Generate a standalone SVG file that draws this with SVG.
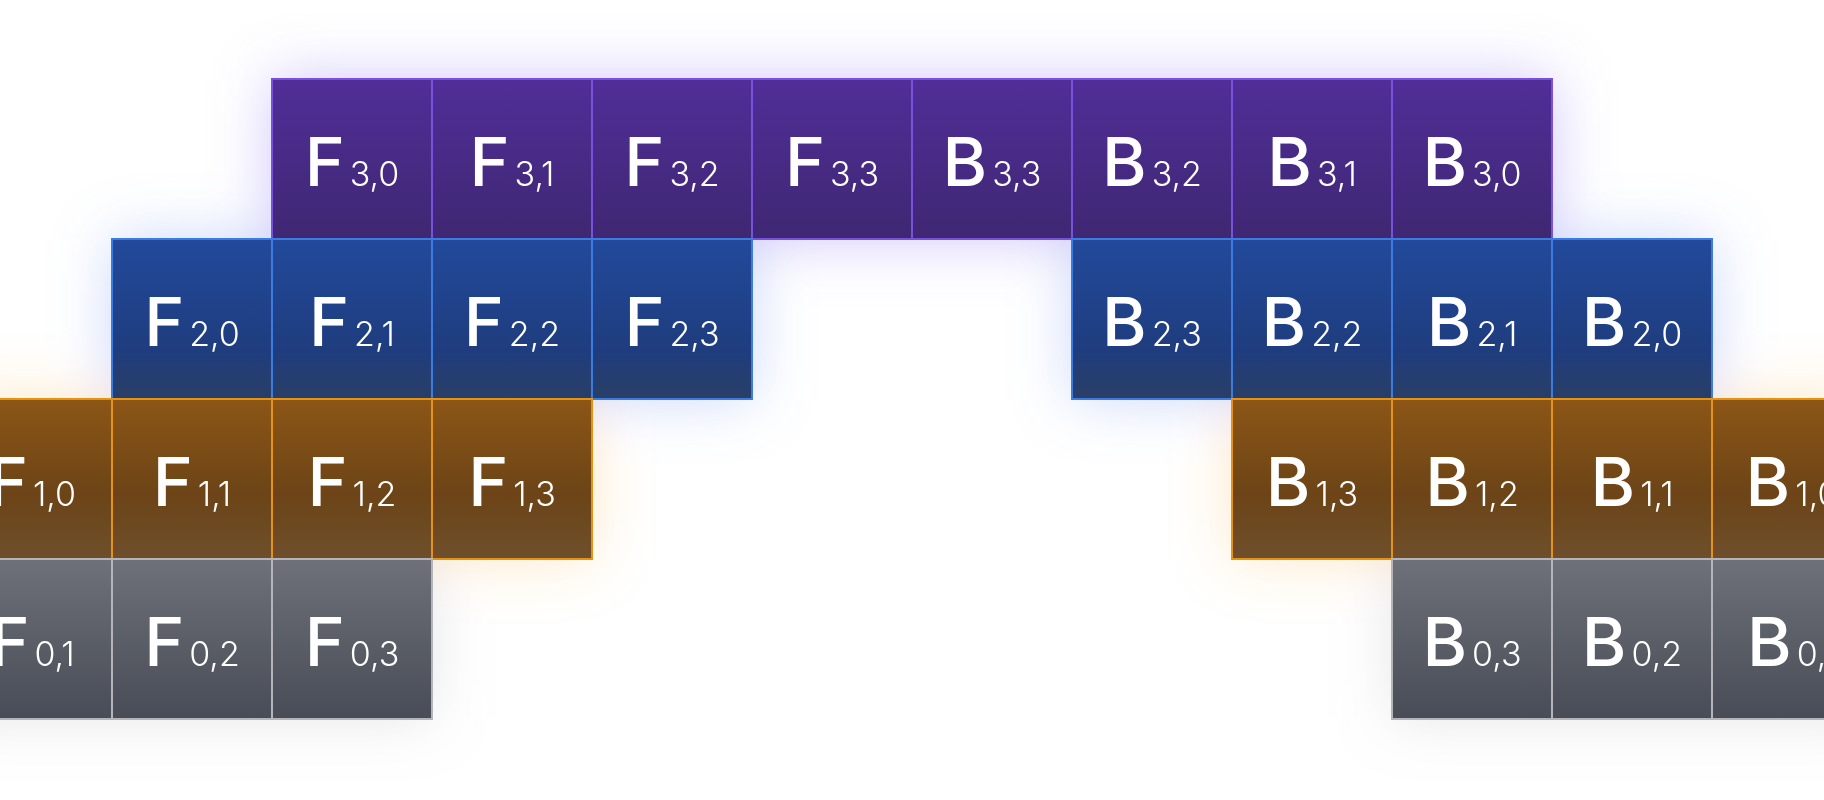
<svg xmlns="http://www.w3.org/2000/svg" width="1824" height="800" viewBox="0 0 1824 800">
<defs>
<linearGradient id="gP" x1="0" y1="0" x2="0" y2="1"><stop offset="0" stop-color="#512e98"/><stop offset="1" stop-color="#3e2772"/></linearGradient>
<linearGradient id="gB" x1="0" y1="0" x2="0" y2="1"><stop offset="0" stop-color="#22499b"/><stop offset="0.7" stop-color="#1f3d7e"/><stop offset="1" stop-color="#2a3f66"/></linearGradient>
<linearGradient id="gO" x1="0" y1="0" x2="0" y2="1"><stop offset="0" stop-color="#8c5616"/><stop offset="0.6" stop-color="#6c4417"/><stop offset="1" stop-color="#6e4f2c"/></linearGradient>
<linearGradient id="gG" x1="0" y1="0" x2="0" y2="1"><stop offset="0" stop-color="#6e7179"/><stop offset="1" stop-color="#484c56"/></linearGradient>
<filter id="glow" x="-50%" y="-50%" width="200%" height="200%"><feGaussianBlur stdDeviation="30"/></filter>
<style>
.t{font-family:Inter,"Liberation Sans",sans-serif;fill:#ffffff;text-anchor:middle}
.big{font-size:68px;font-weight:500}
.sub{font-size:34px;font-weight:300}
.p rect{fill:url(#gP);stroke:#7a50de;stroke-width:2}
.b rect{fill:url(#gB);stroke:#3b7ce2;stroke-width:2}
.o rect{fill:url(#gO);stroke:#e8930f;stroke-width:2}
.g rect{fill:url(#gG);stroke:#b3b5ba;stroke-width:2}
</style>
</defs>
<rect width="1824" height="800" fill="#ffffff"/>
<g id="glows" filter="url(#glow)">
<rect x="272" y="79" width="1280" height="160" fill="#8a70f0" opacity="0.4"/>
<rect x="112" y="239" width="640" height="160" fill="#6a90f0" opacity="0.35"/>
<rect x="1072" y="239" width="640" height="160" fill="#6a90f0" opacity="0.35"/>
<rect x="-48" y="399" width="640" height="160" fill="#f5b040" opacity="0.3"/>
<rect x="1232" y="399" width="640" height="160" fill="#f5b040" opacity="0.3"/>
<rect x="-48" y="559" width="480" height="160" fill="#9a9ca4" opacity="0.25"/>
<rect x="1392" y="559" width="480" height="160" fill="#9a9ca4" opacity="0.25"/>
</g>
<g id="connectors"/>
<!-- purple row -->
<g id="F30" class="p"><rect x="272" y="79" width="160" height="160"/><text class="t" x="352" y="186"><tspan class="big">F</tspan><tspan class="sub" dx="5">3,0</tspan></text></g>
<g id="F31" class="p"><rect x="432" y="79" width="160" height="160"/><text class="t" x="512" y="186"><tspan class="big">F</tspan><tspan class="sub" dx="5">3,1</tspan></text></g>
<g id="F32" class="p"><rect x="592" y="79" width="160" height="160"/><text class="t" x="672" y="186"><tspan class="big">F</tspan><tspan class="sub" dx="5">3,2</tspan></text></g>
<g id="F33" class="p"><rect x="752" y="79" width="160" height="160"/><text class="t" x="832" y="186"><tspan class="big">F</tspan><tspan class="sub" dx="5">3,3</tspan></text></g>
<g id="B33" class="p"><rect x="912" y="79" width="160" height="160"/><text class="t" x="992" y="186"><tspan class="big">B</tspan><tspan class="sub" dx="5">3,3</tspan></text></g>
<g id="B32" class="p"><rect x="1072" y="79" width="160" height="160"/><text class="t" x="1152" y="186"><tspan class="big">B</tspan><tspan class="sub" dx="5">3,2</tspan></text></g>
<g id="B31" class="p"><rect x="1232" y="79" width="160" height="160"/><text class="t" x="1312" y="186"><tspan class="big">B</tspan><tspan class="sub" dx="5">3,1</tspan></text></g>
<g id="B30" class="p"><rect x="1392" y="79" width="160" height="160"/><text class="t" x="1472" y="186"><tspan class="big">B</tspan><tspan class="sub" dx="5">3,0</tspan></text></g>
<!-- blue row -->
<g id="F20" class="b"><rect x="112" y="239" width="160" height="160"/><text class="t" x="192" y="346"><tspan class="big">F</tspan><tspan class="sub" dx="5">2,0</tspan></text></g>
<g id="F21" class="b"><rect x="272" y="239" width="160" height="160"/><text class="t" x="352" y="346"><tspan class="big">F</tspan><tspan class="sub" dx="5">2,1</tspan></text></g>
<g id="F22" class="b"><rect x="432" y="239" width="160" height="160"/><text class="t" x="512" y="346"><tspan class="big">F</tspan><tspan class="sub" dx="5">2,2</tspan></text></g>
<g id="F23" class="b"><rect x="592" y="239" width="160" height="160"/><text class="t" x="672" y="346"><tspan class="big">F</tspan><tspan class="sub" dx="5">2,3</tspan></text></g>
<g id="B23" class="b"><rect x="1072" y="239" width="160" height="160"/><text class="t" x="1152" y="346"><tspan class="big">B</tspan><tspan class="sub" dx="5">2,3</tspan></text></g>
<g id="B22" class="b"><rect x="1232" y="239" width="160" height="160"/><text class="t" x="1312" y="346"><tspan class="big">B</tspan><tspan class="sub" dx="5">2,2</tspan></text></g>
<g id="B21" class="b"><rect x="1392" y="239" width="160" height="160"/><text class="t" x="1472" y="346"><tspan class="big">B</tspan><tspan class="sub" dx="5">2,1</tspan></text></g>
<g id="B20" class="b"><rect x="1552" y="239" width="160" height="160"/><text class="t" x="1632" y="346"><tspan class="big">B</tspan><tspan class="sub" dx="5">2,0</tspan></text></g>
<!-- orange row -->
<g id="F10" class="o"><rect x="-48" y="399" width="160" height="160"/><text class="t" x="32" y="506"><tspan class="big">F</tspan><tspan class="sub" dx="5">1,0</tspan></text></g>
<g id="F11" class="o"><rect x="112" y="399" width="160" height="160"/><text class="t" x="192" y="506"><tspan class="big">F</tspan><tspan class="sub" dx="5">1,1</tspan></text></g>
<g id="F12" class="o"><rect x="272" y="399" width="160" height="160"/><text class="t" x="352" y="506"><tspan class="big">F</tspan><tspan class="sub" dx="5">1,2</tspan></text></g>
<g id="F13" class="o"><rect x="432" y="399" width="160" height="160"/><text class="t" x="512" y="506"><tspan class="big">F</tspan><tspan class="sub" dx="5">1,3</tspan></text></g>
<g id="B13" class="o"><rect x="1232" y="399" width="160" height="160"/><text class="t" x="1312" y="506"><tspan class="big">B</tspan><tspan class="sub" dx="5">1,3</tspan></text></g>
<g id="B12" class="o"><rect x="1392" y="399" width="160" height="160"/><text class="t" x="1472" y="506"><tspan class="big">B</tspan><tspan class="sub" dx="5">1,2</tspan></text></g>
<g id="B11" class="o"><rect x="1552" y="399" width="160" height="160"/><text class="t" x="1632" y="506"><tspan class="big">B</tspan><tspan class="sub" dx="5">1,1</tspan></text></g>
<g id="B10" class="o"><rect x="1712" y="399" width="160" height="160"/><text class="t" x="1792" y="506"><tspan class="big">B</tspan><tspan class="sub" dx="5">1,0</tspan></text></g>
<!-- gray row -->
<g id="F01" class="g"><rect x="-48" y="559" width="160" height="160"/><text class="t" x="32" y="666"><tspan class="big">F</tspan><tspan class="sub" dx="5">0,1</tspan></text></g>
<g id="F02" class="g"><rect x="112" y="559" width="160" height="160"/><text class="t" x="192" y="666"><tspan class="big">F</tspan><tspan class="sub" dx="5">0,2</tspan></text></g>
<g id="F03" class="g"><rect x="272" y="559" width="160" height="160"/><text class="t" x="352" y="666"><tspan class="big">F</tspan><tspan class="sub" dx="5">0,3</tspan></text></g>
<g id="B03" class="g"><rect x="1392" y="559" width="160" height="160"/><text class="t" x="1472" y="666"><tspan class="big">B</tspan><tspan class="sub" dx="5">0,3</tspan></text></g>
<g id="B02" class="g"><rect x="1552" y="559" width="160" height="160"/><text class="t" x="1632" y="666"><tspan class="big">B</tspan><tspan class="sub" dx="5">0,2</tspan></text></g>
<g id="B01" class="g"><rect x="1712" y="559" width="160" height="160"/><text class="t" x="1792" y="666"><tspan class="big">B</tspan><tspan class="sub" dx="5">0,1</tspan></text></g>
</svg>
